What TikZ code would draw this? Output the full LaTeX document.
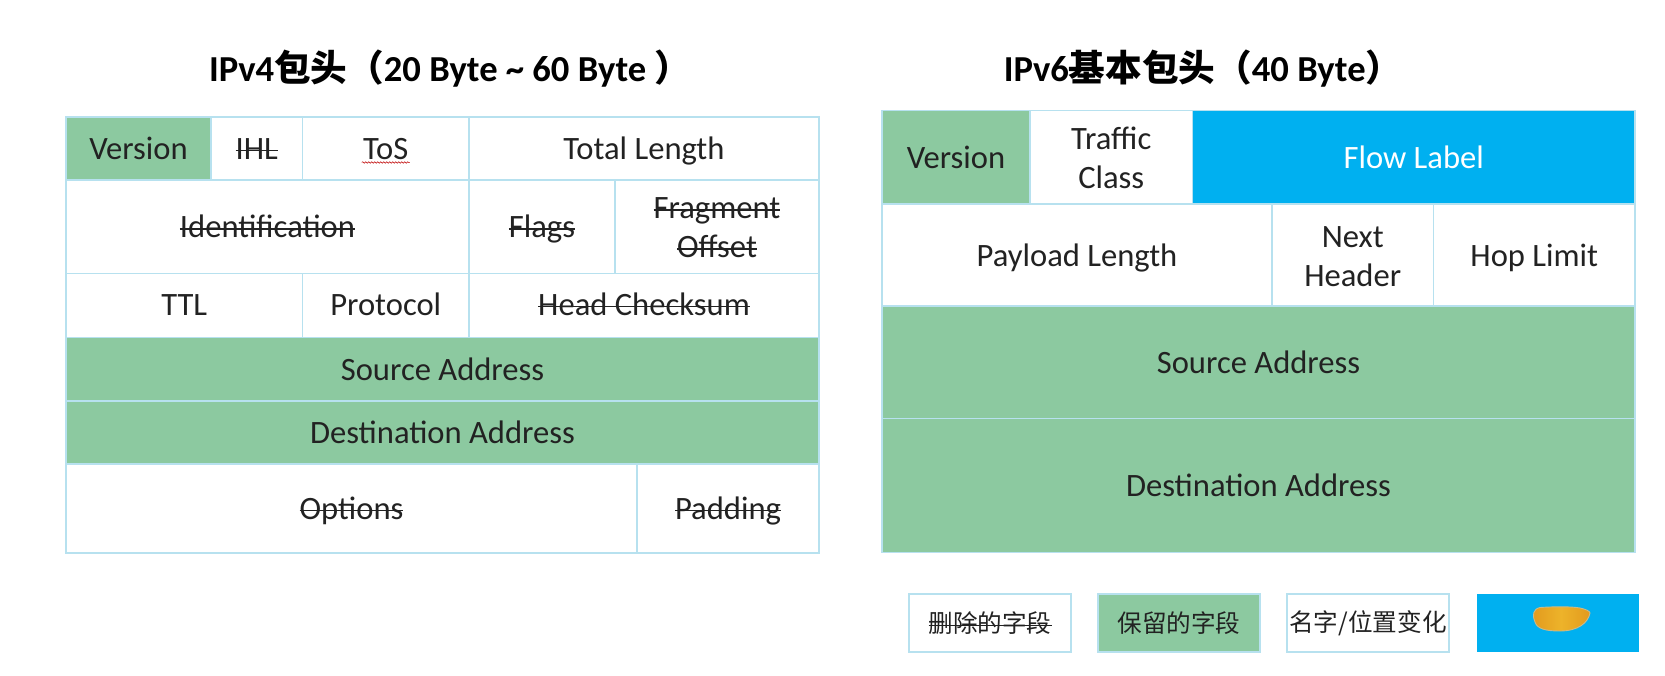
\documentclass[tikz,border=0pt]{standalone}
\usepackage{fontspec}
\setmainfont{Carlito}
\newfontfamily\cjk{Noto Sans CJK SC}
\usetikzlibrary{decorations.pathmorphing}
\definecolor{cellline}{HTML}{B7E1EF}
\definecolor{keepgreen}{HTML}{8CC9A0}
\definecolor{flowblue}{HTML}{00B0F0}
\definecolor{inktext}{HTML}{222222}
\definecolor{blobside}{HTML}{E29A1E}
\definecolor{blobmid}{HTML}{EDB32A}
\definecolor{blobedge}{HTML}{C9B98A}
\newcommand\strk[1]{\leavevmode\setbox0\hbox{#1}\rlap{\box0}\setbox0\hbox{#1}\rule[0.25em]{\wd0}{0.055em}}
% invisible struts fixing the baseline: one-line cells sit 11pt below the centre (10pt for the TTL row)
\newcommand\onel{\rule[-7pt]{0pt}{36pt}}
\newcommand\onelb{\rule[-7pt]{0pt}{34pt}}
\newcommand\twol{\rule{0pt}{23.5pt}}
\tikzset{
  x=1pt,y=-1pt,
  cellbox/.style={draw=cellline,line width=1.6pt,inner sep=0pt,outer sep=0pt,align=center,text=inktext,
    font=\fontsize{32.6}{39}\selectfont},
  keep/.style={cellbox,fill=keepgreen},
  plain/.style={cellbox,fill=white},
  flow/.style={cellbox,fill=flowblue,text=white},
  titletext/.style={inner sep=0pt,text=black,font=\fontsize{36.6}{42}\selectfont\bfseries},
  legendbox/.style={draw=cellline,line width=1.8pt,inner sep=0pt,outer sep=0pt,align=center,text=inktext,
    minimum width=162pt,minimum height=58pt,font=\fontsize{24.6}{30}\selectfont\cjk},
  wavy/.style={draw=red!75!black,line width=0.5pt,decorate,decoration={snake,amplitude=0.8pt,segment length=3pt}},
}
% name, x1, y1, x2, y2, style, text
\newcommand\cell[7]{%
  \pgfmathsetmacro\cw{#4-#2}\pgfmathsetmacro\ch{#5-#3}%
  \pgfmathsetmacro\cx{(#2+#4)/2}\pgfmathsetmacro\cy{(#3+#5)/2}%
  \node[#6,minimum width=\cw pt,minimum height=\ch pt] (#1) at (\cx,\cy) {#7};}
\begin{document}
\begin{tikzpicture}
\useasboundingbox (0,0) rectangle (1665,675);
\fill[white] (0,0) rectangle (1665,675);
\node[titletext] (t4) at (450,69) {IPv4{\cjk 包头（}20 Byte \textasciitilde{} 60 Byte {\cjk ）}};
\node[titletext] (t6) at (1203,69) {IPv6{\cjk 基本包头（}40 Byte{\cjk ）}};
% IPv4
\cell{a1}{66}{117}{211}{180}{keep}{\onel Version}
\cell{a2}{211}{117}{302.5}{180}{plain}{\onel\strk{IHL}}
\cell{a3}{302.5}{117}{469}{180}{plain}{\onel ToS}
\cell{a4}{469}{117}{819}{180}{plain}{\onel Total Length}
\cell{b1}{66}{180}{469}{273.5}{plain}{\onel\strk{Identification}}
\cell{b2}{469}{180}{615}{273.5}{plain}{\onel\strk{Flags}}
\cell{b3}{615}{180}{819}{273.5}{plain}{\twol\strk{Fragment}\\\strk{Offset}}
\cell{c1}{66}{273.5}{302.5}{337.5}{plain}{\onelb TTL}
\cell{c2}{302.5}{273.5}{469}{337.5}{plain}{\onelb Protocol}
\cell{c3}{469}{273.5}{819}{337.5}{plain}{\onelb\strk{Head Checksum}}
\cell{d1}{66}{337.5}{819}{401}{keep}{\onel Source Address}
\cell{d2}{66}{401}{819}{464}{keep}{\onel Destination Address}
\cell{e1}{66}{464}{637}{553}{plain}{\onel\strk{Options}}
\cell{e2}{637}{464}{819}{553}{plain}{\onel\strk{Padding}}
\draw[wavy] ([xshift=-24pt,yshift=-14pt]a3.center) -- ([xshift=24pt,yshift=-14pt]a3.center);
% IPv6
\cell{f1}{882}{110.5}{1030}{204}{keep}{\onel Version}
\cell{f2}{1030}{110.5}{1192.5}{204}{plain}{\twol Traffic\\Class}
\cell{f3}{1192.5}{110.5}{1635}{204}{flow}{\onel Flow Label}
\cell{g1}{882}{204}{1272}{306}{plain}{\onel Payload Length}
\cell{g2}{1272}{204}{1433.5}{306}{plain}{\twol Next\\Header}
\cell{g3}{1433.5}{204}{1635}{306}{plain}{\onel Hop Limit}
\cell{h1}{882}{306}{1635}{418.5}{keep}{\onel Source Address}
\cell{h2}{882}{418.5}{1635}{552.5}{keep}{\onel Destination Address}
% legend
\node[legendbox,fill=white] (l1) at (990,623) {\strk{删除的字段}};
\node[legendbox,fill=keepgreen] (l2) at (1179,623) {保留的字段};
\node[legendbox,fill=white] (l3) at (1368,623) {名字/位置变化};
\node[fill=flowblue,inner sep=0pt,minimum width=162pt,minimum height=58pt] (l4) at (1558,623) {};
\shade[left color=blobside,right color=blobside,middle color=blobmid,draw=blobedge,line width=0.9pt]
  (1540,607.5) .. controls (1555,606.5) and (1572,606.5) .. (1580,608)
  .. controls (1585,609) and (1590,611) .. (1590,613)
  .. controls (1588,623) and (1578,631) .. (1560,631)
  .. controls (1546,631) and (1537,629) .. (1535,622)
  .. controls (1532,615) and (1533,609) .. (1540,607.5) -- cycle;
\end{tikzpicture}
\end{document}
